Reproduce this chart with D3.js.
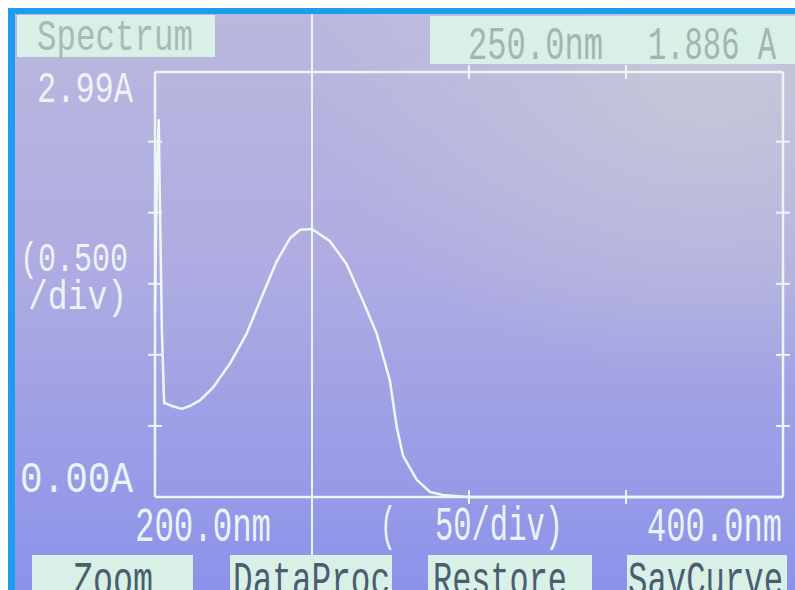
<!DOCTYPE html>
<html>
<head>
<meta charset="utf-8">
<script src="https://cdn.jsdelivr.net/npm/d3@7"></script>
<style>
  html, body { margin: 0; padding: 0; background: #ffffff; }
  svg { display: block; }
</style>
</head>
<body>
<svg id="scr" width="795" height="590"></svg>
<script>
// spectrum (wavelength nm, absorbance A)
var wavelengths = [200.0, 200.6, 201.2, 201.5, 202.2, 202.9, 203.2, 205.4, 208.5, 211.1, 214.3, 218.5,
  223.9, 229.2, 234.4, 238.8, 243.0, 246.2, 250.0, 255.7, 261.0, 266.2, 270.6, 274.8,
  277.0, 279.0, 283.4, 287.6, 291.7, 295.5, 300.0, 400.0];
var absorbance = [1.30, 2.30, 2.65, 2.15, 1.17, 0.66, 0.66, 0.64, 0.62, 0.64, 0.68, 0.77,
  0.94, 1.15, 1.43, 1.66, 1.82, 1.88, 1.886, 1.80, 1.64, 1.38, 1.15, 0.82,
  0.49, 0.29, 0.12, 0.035, 0.014, 0.007, 0.0, 0.0];

var xTicks = [250, 300, 350];
var yTicks = [0.5, 1.0, 1.5, 2.0, 2.5];
var cursorNm = 250.0, cursorAbs = 1.886;
var buttons = ["Zoom", "DataProc", "Restore", "SavCurve"];

var svg = d3.select("svg#scr");
var defs = svg.append("defs");

var g1 = defs.append("linearGradient").attr("id", "bg")
    .attr("x1", 0).attr("y1", 0).attr("x2", 0).attr("y2", 1);
g1.append("stop").attr("offset", "0%").attr("stop-color", "#bbb8de");
g1.append("stop").attr("offset", "45%").attr("stop-color", "#adabe2");
g1.append("stop").attr("offset", "100%").attr("stop-color", "#8a91ea");

var g2 = defs.append("radialGradient").attr("id", "glare")
    .attr("cx", 0.88).attr("cy", 0.12).attr("r", 0.5);
g2.append("stop").attr("offset", "0%").attr("stop-color", "#cbccd6").attr("stop-opacity", 0.75);
g2.append("stop").attr("offset", "100%").attr("stop-color", "#cbccd6").attr("stop-opacity", 0);

// screen
svg.append("rect").attr("x", 8).attr("y", 8).attr("width", 800).attr("height", 600)
    .attr("fill", "#1e9cf0");
svg.append("rect").attr("x", 15).attr("y", 14).attr("width", 790).attr("height", 590)
    .attr("fill", "url(#bg)");
svg.append("rect").attr("x", 15).attr("y", 14).attr("width", 790).attr("height", 590)
    .attr("fill", "url(#glare)");

var x = d3.scaleLinear().domain([200, 400]).range([155, 783]);
var y = d3.scaleLinear().domain([0, 2.99]).range([497, 72]);

var lineCol = "#e8f7f4";
var font = "'Liberation Mono', 'DejaVu Sans Mono', monospace";

function label(txt, x0, base, w, size, col) {
  return svg.append("text")
    .attr("x", x0).attr("y", base)
    .attr("font-family", font).attr("font-size", size)
    .attr("textLength", w).attr("lengthAdjust", "spacingAndGlyphs")
    .attr("fill", col).text(txt);
}

// title boxes
svg.append("rect").attr("x", 17).attr("y", 15).attr("width", 198).attr("height", 42).attr("fill", "#d8f0e6");
svg.append("rect").attr("x", 430).attr("y", 16).attr("width", 365).attr("height", 48).attr("fill", "#d8f0e6");
label("Spectrum", 37, 50, 156, 44, "#a9bab6");
label(cursorNm.toFixed(1) + "nm", 468, 59, 135, 46, "#a4b4b0");
label(cursorAbs.toFixed(3) + " A", 648, 59, 128, 46, "#a4b4b0");

// frame
var plot = svg.append("g");
plot.append("line").attr("x1", x(200)).attr("x2", x(200)).attr("y1", y(2.99)).attr("y2", y(0))
    .attr("stroke", lineCol).attr("stroke-width", 2.5);
plot.append("line").attr("x1", x(400)).attr("x2", x(400)).attr("y1", y(2.99)).attr("y2", y(0))
    .attr("stroke", lineCol).attr("stroke-width", 2.5);
plot.append("line").attr("x1", x(200)).attr("x2", x(400)).attr("y1", y(2.99)).attr("y2", y(2.99))
    .attr("stroke", lineCol).attr("stroke-width", 2.5);
plot.append("line").attr("x1", x(200)).attr("x2", x(400)).attr("y1", y(0)).attr("y2", y(0))
    .attr("stroke", lineCol).attr("stroke-width", 2.5);

// y ticks both sides
[x(200), x(400)].forEach(function(xx) {
  plot.selectAll(null).data(yTicks).enter().append("line")
    .attr("x1", xx - 7).attr("x2", xx + 7)
    .attr("y1", function(d) { return y(d); }).attr("y2", function(d) { return y(d); })
    .attr("stroke", lineCol).attr("stroke-width", 2);
});
// x ticks top and bottom
[y(0), y(2.99)].forEach(function(yy) {
  plot.selectAll(null).data(xTicks).enter().append("line")
    .attr("x1", function(d) { return x(d); }).attr("x2", function(d) { return x(d); })
    .attr("y1", yy - 7).attr("y2", yy + 7)
    .attr("stroke", lineCol).attr("stroke-width", 2);
});

// cursor
plot.append("line").attr("x1", x(cursorNm)).attr("x2", x(cursorNm)).attr("y1", 14).attr("y2", 590)
    .attr("stroke", lineCol).attr("stroke-width", 2);

// spectrum curve
var pts = wavelengths.map(function(w, i) { return [w, absorbance[i]]; });
plot.append("path").datum(pts)
    .attr("d", d3.line().x(function(d) { return x(d[0]); }).y(function(d) { return y(d[1]); }))
    .attr("fill", "none").attr("stroke", "#eef9f6").attr("stroke-width", 2.5)
    .attr("stroke-linejoin", "round");

// axis labels
var wcol = "#eaf4f6";
label("2.99A", 37, 102, 96, 44, wcol);
label("(0.500", 20, 271, 108, 40, wcol);
label("/div)", 28, 309, 99, 40, wcol);
label("0.00A", 20, 492, 113, 44, wcol);
label("200.0nm", 135, 541, 136, 48, wcol);
label("(", 380, 540, 16, 48, wcol);
label("50/div)", 435, 540, 128, 48, wcol);
label("400.0nm", 647, 541, 135, 48, wcol);

// soft keys
var bx = [32, 230, 428, 627], bw = [161, 162, 164, 160];
var tx = [73, 233, 433, 628], tw = [80, 157, 134, 155];
buttons.forEach(function(b, i) {
  svg.append("rect").attr("x", bx[i]).attr("y", 555).attr("width", bw[i]).attr("height", 40)
    .attr("fill", "#d8f0e6");
  label(b, tx[i], 595, tw[i], 48, "#4a5e70");
});
</script>
</body>
</html>
